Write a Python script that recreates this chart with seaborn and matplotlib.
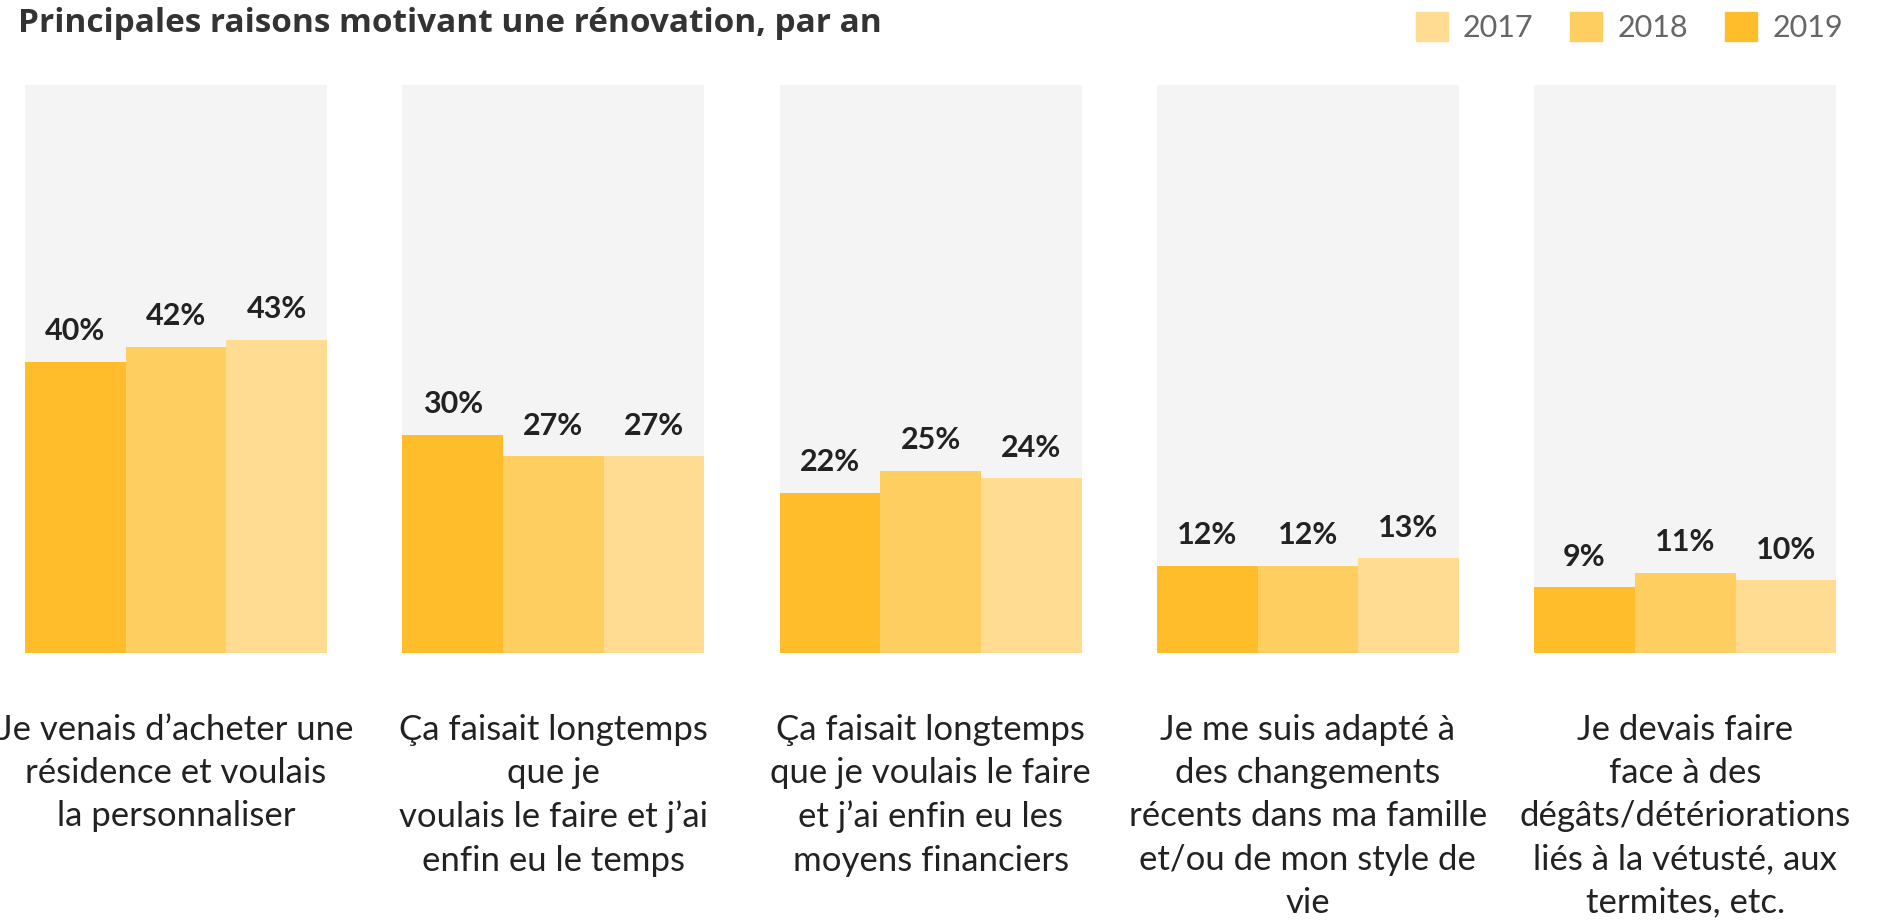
import matplotlib.pyplot as plt
import pandas as pd
import seaborn as sns
from matplotlib.patches import Patch

# Data: one list per year, in the order of the reasons
reasons = [
    "Je venais d’acheter une\nrésidence et voulais\nla personnaliser",
    "Ça faisait longtemps\nque je\nvoulais le faire et j’ai\nenfin eu le temps",
    "Ça faisait longtemps\nque je voulais le faire\net j’ai enfin eu les\nmoyens financiers",
    "Je me suis adapté à\ndes changements\nrécents dans ma famille\net/ou de mon style de\nvie",
    "Je devais faire\nface à des\ndégâts/détériorations\nliés à la vétusté, aux\ntermites, etc.",
]
years = ["2019", "2018", "2017"]
values_2019 = [40, 30, 22, 12, 9]
values_2018 = [42, 27, 25, 12, 11]
values_2017 = [43, 27, 24, 13, 10]

colors = {"2019": "#ffbd2b", "2018": "#ffce61", "2017": "#ffdc92"}

sns.set_theme(style="white")
plt.rcParams["font.family"] = ["Lato", "DejaVu Sans"]

df = pd.DataFrame({
    "reason": reasons * 3,
    "year": ["2019"] * 5 + ["2018"] * 5 + ["2017"] * 5,
    "value": values_2019 + values_2018 + values_2017,
})

fig = plt.figure(figsize=(18.81, 9.22), dpi=100)
W, H = 1881, 922

for i, reason in enumerate(reasons):
    ax = fig.add_axes([(25 + i * 377.3) / W, (H - 653) / H, 302 / W, 568 / H])
    ax.set_facecolor("#f4f4f4")
    sub = df[df["reason"] == reason]
    sns.barplot(
        data=sub, x="year", y="value", hue="year", order=years,
        hue_order=years, palette=colors, width=1.0, legend=False,
        saturation=1, linewidth=0, ax=ax,
    )
    for cont in ax.containers:
        ax.bar_label(
            cont, labels=[f"{v:.0f}%" for v in cont.datavalues],
            padding=12, fontsize=22, fontweight="bold", color="#222222",
        )
    ax.set_xlim(-0.5, 2.5)
    ax.set_ylim(0, 78)
    ax.set_xticks([])
    ax.set_yticks([])
    ax.set_xlabel("")
    ax.set_ylabel("")
    sns.despine(ax=ax, left=True, bottom=True)
    ax.annotate(
        reason, xy=(0.5, 0), xycoords="axes fraction",
        xytext=(0, -61), textcoords="offset pixels",
        ha="center", va="top", fontsize=25, fontweight="normal",
        color="#222222", linespacing=1.43, annotation_clip=False,
    )

fig.text(18 / W, 1 - 24 / H, "Principales raisons motivant une rénovation, par an",
         ha="left", va="center", fontsize=24, fontweight="bold", color="#333333",
         family=["Open Sans", "DejaVu Sans"])

handles = [Patch(color=colors[y], label=y) for y in ["2017", "2018", "2019"]]
fig.legend(
    handles=handles, loc="center right", bbox_to_anchor=(1843 / W, 1 - 27 / H),
    ncol=3, frameon=False, fontsize=22, labelcolor="#666666",
    handlelength=1.05, handleheight=1.05, handletextpad=0.5,
    columnspacing=1.2, borderpad=0, borderaxespad=0,
)

fig.savefig("out.png", dpi=100)
